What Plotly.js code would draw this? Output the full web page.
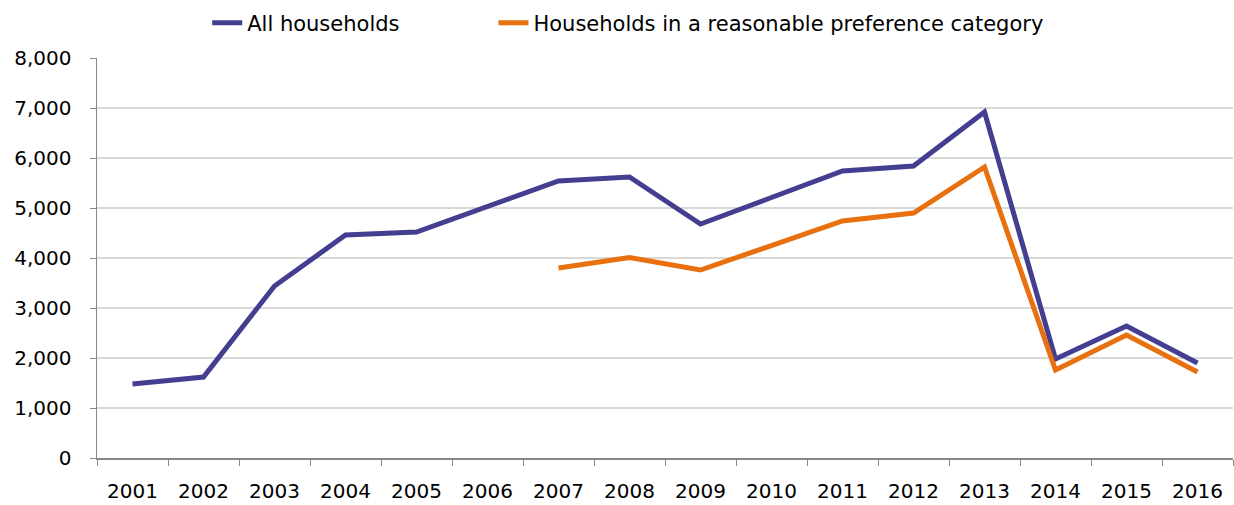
<!DOCTYPE html>
<html><head><meta charset="utf-8">
<script src="https://cdn.plot.ly/plotly-3.0.1.min.js"></script>
<style>html,body{margin:0;padding:0;background:#fff}#c{width:1234px;height:505px}</style>
</head><body><div id="c"></div>
<script>
const years = ['2001','2002','2003','2004','2005','2006','2007','2008','2009','2010','2011','2012','2013','2014','2015','2016'];
const allHouseholds = [1480, 1620, 3440, 4460, 4520, 5040, 5540, 5620, 4680, 5210, 5740, 5840, 6920, 1980, 2640, 1900];
const reasonablePreference = [null, null, null, null, null, null, 3800, 4010, 3760, 4260, 4740, 4900, 5820, 1760, 2460, 1720];
const seriesNames = ['All households', 'Households in a reasonable preference category'];
const yTicks = [0,1000,2000,3000,4000,5000,6000,7000,8000];

const traces = [
  {x: years, y: allHouseholds, name: seriesNames[0], type: 'scatter', mode: 'lines',
   line: {color: '#433E90', width: 5}, legend: 'legend'},
  {x: years, y: reasonablePreference, name: seriesNames[1], type: 'scatter', mode: 'lines',
   line: {color: '#E8700E', width: 5}, connectgaps: false, legend: 'legend2'}
];
const legendBase = {orientation: 'h', xanchor: 'left', y: 0.995, yanchor: 'top', yref: 'container',
                    font: {size: 21}, bgcolor: 'rgba(0,0,0,0)'};
const layout = {
  width: 1234, height: 505,
  margin: {l: 97, r: 1, t: 58, b: 47},
  paper_bgcolor: '#fff', plot_bgcolor: '#fff',
  font: {family: 'DejaVu Sans, sans-serif', size: 20, color: '#000'},
  showlegend: true,
  legend: Object.assign({}, legendBase, {x: 0.097}),
  legend2: Object.assign({}, legendBase, {x: 0.349}),
  xaxis: {type: 'category', range: [-0.5, 15.5], tickson: 'boundaries', ticks: 'outside', ticklen: 6, tickcolor: '#888',
          showline: true, linecolor: '#888', linewidth: 1.5, showgrid: false, zeroline: false,
          ticklabelstandoff: 14, tickfont: {size: 20}, fixedrange: true},
  yaxis: {range: [0, 8000], tickvals: yTicks, tickformat: ',', ticks: 'outside', ticklen: 6, tickcolor: '#888',
          showline: true, linecolor: '#888', linewidth: 1.5, gridcolor: '#D9D9D9', gridwidth: 1.5,
          ticklabelstandoff: 14, zeroline: false, tickfont: {size: 20}, fixedrange: true}
};
Plotly.newPlot('c', traces, layout, {displayModeBar: false, staticPlot: true});
</script></body></html>
